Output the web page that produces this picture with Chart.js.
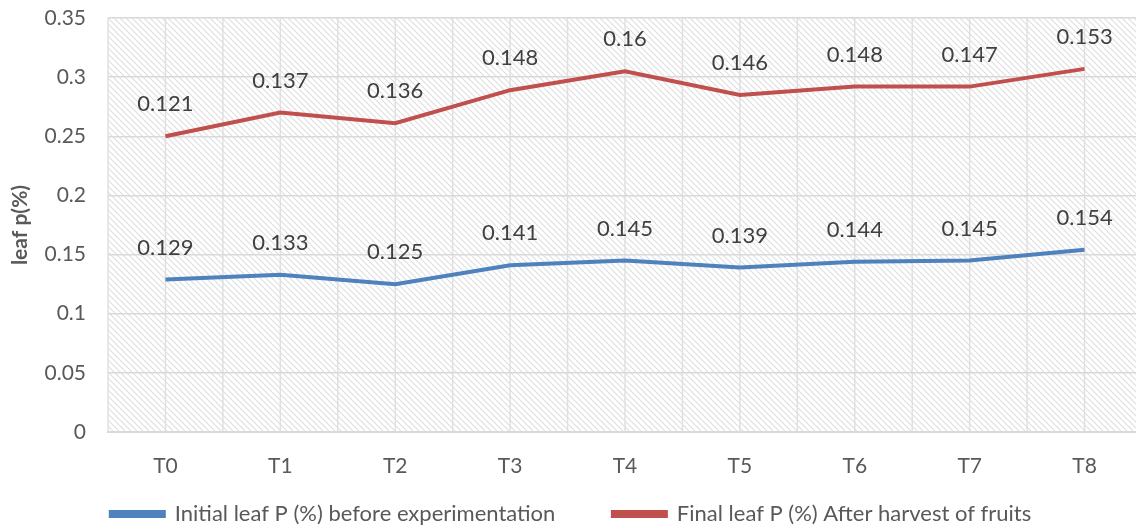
<!DOCTYPE html>
<html>
<head>
<meta charset="utf-8">
<script src="https://cdn.jsdelivr.net/npm/chart.js@4.4.1/dist/chart.umd.min.js"></script>
<style>
  html, body { margin: 0; padding: 0; background: #fff; overflow: hidden; }
  #wrap { width: 1150px; height: 530px; }
</style>
</head>
<body>
<div id="wrap"><canvas id="myChart"></canvas></div>
<script>
const categories = ['T0', 'T1', 'T2', 'T3', 'T4', 'T5', 'T6', 'T7', 'T8'];
const initialP = [0.129, 0.133, 0.125, 0.141, 0.145, 0.139, 0.144, 0.145, 0.154];
const finalP = [0.121, 0.137, 0.136, 0.148, 0.16, 0.146, 0.148, 0.147, 0.153];
const yTicks = [0, 0.05, 0.1, 0.15, 0.2, 0.25, 0.3, 0.35];

const FONT = 'Lato, "Open Sans", sans-serif';

// diagonal hatch used as plot background
function makeHatch() {
  const c = document.createElement('canvas');
  c.width = 6; c.height = 6;
  const g = c.getContext('2d');
  g.fillStyle = '#ffffff';
  g.fillRect(0, 0, 6, 6);
  g.strokeStyle = '#dedede';
  g.lineWidth = 1.1;
  g.beginPath();
  g.moveTo(-1, -1); g.lineTo(7, 7);
  g.moveTo(-4, 2); g.lineTo(2, 8);
  g.moveTo(4, -2); g.lineTo(8, 2);
  g.stroke();
  return c;
}

const backgroundPlugin = {
  id: 'hatchBg',
  beforeDraw(chart) {
    const { ctx, chartArea: a, scales } = chart;
    ctx.save();
    ctx.fillStyle = ctx.createPattern(makeHatch(), 'repeat');
    ctx.fillRect(a.left, a.top, a.right - a.left, a.bottom - a.top);
    // vertical grid at category centres and boundaries
    ctx.strokeStyle = '#e0e0e0';
    ctx.lineWidth = 1.5;
    for (let i = -0.5; i <= categories.length - 0.5; i += 0.5) {
      const x = scales.x.getPixelForValue(i);
      ctx.beginPath();
      ctx.moveTo(x, a.top);
      ctx.lineTo(x, a.bottom);
      ctx.stroke();
    }
    ctx.restore();
  }
};

const labelPlugin = {
  id: 'valueLabels',
  afterDatasetsDraw(chart) {
    const { ctx } = chart;
    ctx.save();
    ctx.font = '22px ' + FONT;
    ctx.fillStyle = '#404040';
    ctx.textAlign = 'center';
    ctx.textBaseline = 'middle';
    chart.data.datasets.forEach((ds, di) => {
      chart.getDatasetMeta(di).data.forEach((pt, i) => {
        ctx.fillText(String(ds.data[i]), pt.x, pt.y - 32);
      });
    });
    ctx.restore();
  }
};

new Chart(document.getElementById('myChart'), {
  type: 'line',
  data: {
    labels: categories,
    datasets: [{
      label: 'Initial leaf P (%) before experimentation',
      data: initialP,
      borderColor: '#4f81bd',
      backgroundColor: '#4f81bd',
      borderWidth: 4,
      pointRadius: 0,
      tension: 0
    }, {
      label: 'Final leaf P (%) After harvest of fruits',
      data: finalP,
      borderColor: '#c0504d',
      backgroundColor: '#c0504d',
      borderWidth: 4,
      pointRadius: 0,
      tension: 0
    }]
  },
  options: {
    responsive: true,
    maintainAspectRatio: false,
    animation: false,
    layout: { padding: { top: 18, right: 8, left: 0, bottom: -5 } },
    scales: {
      x: {
        offset: true,
        grid: { display: false },
        border: { color: '#d9d9d9', width: 2 },
        ticks: { color: '#595959', font: { size: 21, family: FONT }, padding: 14 },
        afterFit(s) { s.height = 63; }
      },
      y: {
        stacked: true,
        min: 0,
        max: 0.35,
        afterBuildTicks(s) { s.ticks = yTicks.map(v => ({ value: v })); },
        grid: { color: '#d9d9d9', lineWidth: 1.5, drawTicks: false },
        border: { display: false },
        ticks: {
          color: '#595959',
          font: { size: 21, family: FONT },
          padding: 22,
          callback: v => String(Math.round(v * 100) / 100)
        },
        title: {
          display: true,
          text: 'leaf p(%)',
          color: '#595959',
          font: { size: 21, weight: '700', family: FONT },
          padding: { top: 8, bottom: 0 }
        },
        afterFit(s) {
          s.width = 108;
          s.paddingTop = 0;
          s.paddingBottom = 0;
        }
      }
    },
    plugins: {
      legend: {
        position: 'bottom',
        labels: {
          color: '#595959',
          font: { size: 22, family: FONT },
          boxWidth: 53,
          boxHeight: 4,
          padding: 8,
          generateLabels(chart) {
            const items = Chart.defaults.plugins.legend.labels.generateLabels(chart);
            // wider gap between the two entries, as in the original
            items[0].text += '\u2003\u2003\u2003';
            return items;
          }
        }
      },
      tooltip: { enabled: false }
    }
  },
  plugins: [backgroundPlugin, labelPlugin]
});
</script>
</body>
</html>
